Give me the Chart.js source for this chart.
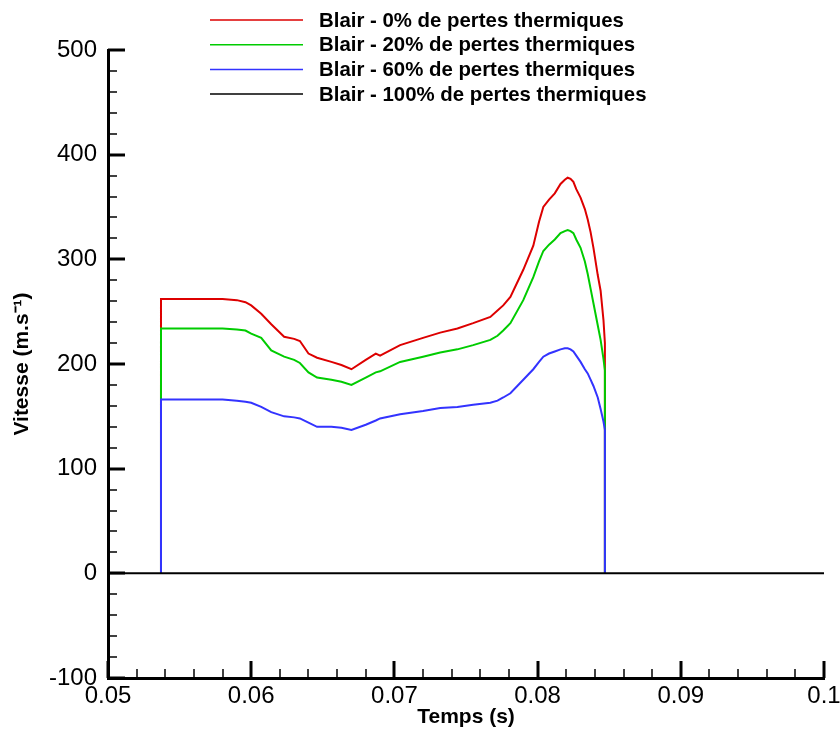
<!DOCTYPE html>
<html><head><meta charset="utf-8">
<script src="https://cdn.jsdelivr.net/npm/chart.js@4.4.0/dist/chart.umd.min.js"></script>
<style>html,body{margin:0;padding:0;background:#fff}#wrap{width:840px;height:733px}</style>
</head><body><div id="wrap"><canvas id="c" width="840" height="733"></canvas></div>
<script>
const seriesLabels = [
  'Blair - 0% de pertes thermiques',
  'Blair - 20% de pertes thermiques',
  'Blair - 60% de pertes thermiques',
  'Blair - 100% de pertes thermiques'
];
const tBlair = [0.0537, 0.0537, 0.0580, 0.0590, 0.0596, 0.0600, 0.0607, 0.0614, 0.0623, 0.0630, 0.0634, 0.0640, 0.0646, 0.0656, 0.0663, 0.0670, 0.0680, 0.0687, 0.0690, 0.0704, 0.0720, 0.0732, 0.0744, 0.0755, 0.0767, 0.0772, 0.0776, 0.0781, 0.0790, 0.0797, 0.0801, 0.0804, 0.0808, 0.0812, 0.0816, 0.0819, 0.0821, 0.0823, 0.0825, 0.0827, 0.0830, 0.0833, 0.0835, 0.0837, 0.0839, 0.0842, 0.0844, 0.0846, 0.0847, 0.0847];
const vBlair0  = [0, 262, 262, 261, 259, 256, 248, 238, 226, 224, 222, 210, 206, 202, 199, 195, 204, 210, 208, 218, 225, 230, 234, 239, 245, 251, 256, 264, 290, 313, 336, 350, 357, 363, 372, 376, 378, 377, 374, 367, 359, 348, 338, 326, 311, 285, 270, 242, 220, 0];
const vBlair20 = [0, 234, 234, 233, 232, 229, 225, 213, 207, 204, 201, 192, 187, 185, 183, 180, 187, 192, 193, 202, 207, 211, 214, 218, 223, 227, 232, 239, 261, 283, 298, 308, 314, 319, 325, 327, 328, 327, 325, 319, 311, 298, 286, 272, 258, 237, 223, 205, 194, 0];
const vBlair60 = [0, 166, 166, 165, 164, 163, 159, 154, 150, 149, 148, 144, 140, 140, 139, 137, 142, 146, 148, 152, 155, 158, 159, 161, 163, 165, 168, 172, 185, 195, 202, 207, 210, 212, 214, 215, 215, 214, 212, 208, 202, 195, 191, 185, 179, 168, 157, 145, 137, 0];
const tBlair100 = [0.05, 0.1];
const vBlair100 = [0, 0];
const xTickValues = [0.05, 0.06, 0.07, 0.08, 0.09, 0.1];
const yTickValues = [-100, 0, 100, 200, 300, 400, 500];
const seriesColors = ['#dd0000', '#00cc00', '#3333ff', '#000000'];

const toPts = (xs, ys) => xs.map((x, i) => ({x: x, y: ys[i]}));

const insideTicks = {
  id: 'insideTicks',
  afterDraw(chart) {
    const {ctx, chartArea: a, scales: {x, y}} = chart;
    ctx.save();
    ctx.strokeStyle = '#000';
    for (let k = 0; k <= 30; k++) {
      const v = -100 + k * 20;
      const p = Math.round(y.getPixelForValue(v));
      const major = k % 5 === 0;
      ctx.lineWidth = major ? 3 : 1.5;
      ctx.beginPath();
      ctx.moveTo(a.left, p);
      ctx.lineTo(a.left + (major ? 17 : 9), p);
      ctx.stroke();
    }
    for (let k = 0; k <= 25; k++) {
      const v = 0.05 + k * 0.002;
      const p = Math.round(x.getPixelForValue(v));
      const major = k % 5 === 0;
      ctx.lineWidth = major ? 3 : 1.5;
      ctx.beginPath();
      ctx.moveTo(p, a.bottom);
      ctx.lineTo(p, a.bottom - (major ? 17 : 9));
      ctx.stroke();
    }
    ctx.restore();
  }
};

const customLegend = {
  id: 'customLegend',
  afterDraw(chart) {
    const ctx = chart.ctx;
    ctx.save();
    ctx.font = 'bold 20.4px "Liberation Sans", Arial, sans-serif';
    ctx.textBaseline = 'middle';
    ctx.textAlign = 'left';
    chart.data.datasets.forEach((ds, i) => {
      const yy = 20 + i * 24.7;
      ctx.strokeStyle = ds.borderColor;
      ctx.lineWidth = 1.5;
      ctx.beginPath();
      ctx.moveTo(210, yy);
      ctx.lineTo(303, yy);
      ctx.stroke();
      ctx.fillStyle = '#000';
      ctx.fillText(ds.label, 319, yy + 1);
    });
    ctx.restore();
  }
};

const tickFont = {family: '"Liberation Sans", Arial, sans-serif', size: 24};
const titleFont = {family: '"Liberation Sans", Arial, sans-serif', size: 21, weight: 'bold'};

new Chart(document.getElementById('c'), {
  type: 'line',
  data: {
    datasets: [
      {label: seriesLabels[0], data: toPts(tBlair, vBlair0), borderColor: seriesColors[0], order: 3},
      {label: seriesLabels[1], data: toPts(tBlair, vBlair20), borderColor: seriesColors[1], order: 2},
      {label: seriesLabels[2], data: toPts(tBlair, vBlair60), borderColor: seriesColors[2], order: 1},
      {label: seriesLabels[3], data: toPts(tBlair100, vBlair100), borderColor: seriesColors[3], order: 0}
    ]
  },
  options: {
    responsive: false,
    animation: false,
    devicePixelRatio: 1,
    datasets: {line: {borderWidth: 2, pointRadius: 0, tension: 0, fill: false}},
    layout: {padding: {left: 0, right: 16, top: 50, bottom: 0}},
    plugins: {legend: {display: false}, tooltip: {enabled: false}},
    scales: {
      x: {
        type: 'linear', min: 0.05, max: 0.1,
        afterBuildTicks: s => { s.ticks = xTickValues.map(v => ({value: v})); },
        afterFit: s => { s.height = 55; s.paddingRight = 0; s.paddingLeft = 0; },
        grid: {display: false, drawTicks: false},
        border: {display: true, color: '#000', width: 3},
        ticks: {color: '#000', font: tickFont, padding: 4, maxRotation: 0, autoSkip: false,
          callback: v => String(Number(v.toFixed(2)))},
        title: {display: true, text: 'Temps (s)', color: '#000', font: titleFont, padding: {top: 0, bottom: 3}}
      },
      y: {
        type: 'linear', min: -100, max: 500,
        afterBuildTicks: s => { s.ticks = yTickValues.map(v => ({value: v})); },
        afterFit: s => { s.width = 108; },
        grid: {display: false, drawTicks: false},
        border: {display: true, color: '#000', width: 3},
        ticks: {color: '#000', font: tickFont, padding: 11, autoSkip: false},
        title: {display: true, text: 'Vitesse (m.s\u207B\u00B9)', color: '#000', font: titleFont, padding: {top: 10, bottom: 0}}
      }
    }
  },
  plugins: [insideTicks, customLegend]
});
</script>
</body></html>
